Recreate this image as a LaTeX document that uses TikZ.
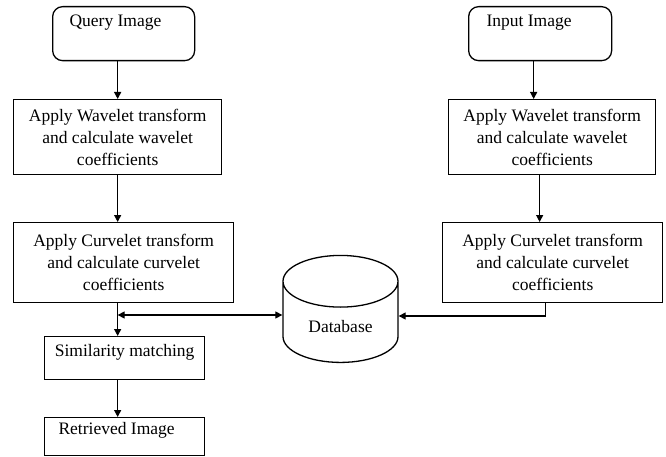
\documentclass[tikz,border=0pt]{standalone}
\usepackage{fontspec}
\setmainfont{Liberation Serif}
\usetikzlibrary{shapes.geometric, arrows.meta, positioning, calc}

\begin{document}
\begin{tikzpicture}[x=1pt, y=-1pt,
    txt/.style={font=\fontsize{17.5}{22}\selectfont},
    box/.style={draw, line width=1.3pt, inner sep=0pt, anchor=north west, align=center, txt},
    rbox/.style={box, rounded corners=10pt},
    flow/.style={-{Triangle[length=7pt, width=7pt]}, line width=1.3pt}]

\useasboundingbox (0,0) rectangle (666,457);

% Left column - query side
\node[rbox, minimum width=142pt, minimum height=54pt,
      label={[anchor=west, txt, xshift=14pt, yshift=-17pt]north west:Query Image}] (qimg) at (52,6) {};
\node[box, minimum width=208pt, minimum height=75pt] (wl) at (13,99)
    {Apply Wavelet transform\\and calculate wavelet\\coefficients};
\node[box, minimum width=220pt, minimum height=80pt] (cl) at (13,222)
    {Apply Curvelet transform\\and calculate curvelet\\coefficients};
\node[box, minimum width=160pt, minimum height=43pt,
      label={[anchor=center, txt, yshift=-16pt]north:Similarity matching}] (sim) at (44,336) {};
\node[box, minimum width=160pt, minimum height=38pt,
      label={[anchor=west, txt, xshift=11pt, yshift=-13pt]north west:Retrieved Image}] (ret) at (44,417) {};

% Right column - input side
\node[rbox, minimum width=143pt, minimum height=54pt,
      label={[anchor=west, txt, xshift=15pt, yshift=-17pt]north west:Input Image}] (iimg) at (468,6) {};
\node[box, minimum width=207pt, minimum height=75pt] (wr) at (448,99)
    {Apply Wavelet transform\\and calculate wavelet\\coefficients};
\node[box, minimum width=220pt, minimum height=80pt] (cr) at (442,222)
    {Apply Curvelet transform\\and calculate curvelet\\coefficients};

% Database
\node[draw, cylinder, shape border rotate=90, aspect=0.73, line width=1.3pt, txt,
      minimum width=115pt, minimum height=107pt] (db) at (340.5,326.5) {Database};

% Arrows - left
\coordinate (join) at (wl.south |- 0,315);
\draw[flow] ($(qimg.south)+(-6,0)$) -- (wl.north);
\draw[flow] (wl.south) -- (wl.south |- cl.north);
\draw[flow] (join |- cl.south) -- (join |- sim.north);
\draw[{Triangle[length=7pt, width=7pt]}-{Triangle[length=7pt, width=7pt]}, line width=1.3pt]
    (join) -- (join -| db.west);
\draw[flow] (join |- sim.south) -- (join |- ret.north);

% Arrows - right
\coordinate (w2c) at ($(wr.south)+(-12.5,0)$);
\draw[flow] ($(iimg.south)+(-6.5,0)$) -- ($(wr.north)+(-18.5,0)$);
\draw[flow] (w2c) -- (w2c |- cr.north);
\draw[flow] ($(cr.south)+(-7,0)$) |- (db.east |- 0,316);

\end{tikzpicture}
\end{document}
